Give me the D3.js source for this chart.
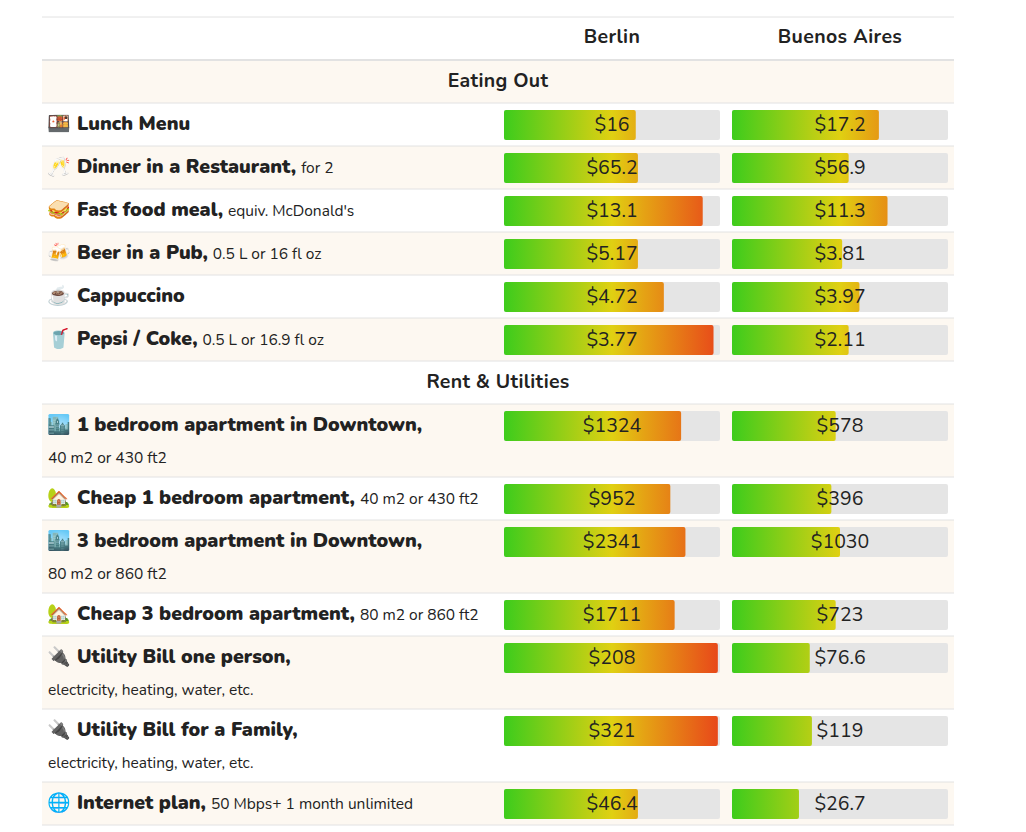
<!DOCTYPE html>
<html><head><meta charset="utf-8">
<script src="https://cdn.jsdelivr.net/npm/d3@7"></script>
<style>body{margin:0;background:#fff;font-family:Nunito,Lato,sans-serif;}</style>
</head><body>
<script>
var cities = ["Berlin", "Buenos Aires"];
var sections = ["Eating Out", "Rent & Utilities"];
var icons = ["🍱","🥂","🥪","🍻","☕","🥤","🏙️","🏡","🏙️","🏡","🔌","🔌","🌐"];
var items = ["Lunch Menu","Dinner in a Restaurant,","Fast food meal,","Beer in a Pub,","Cappuccino","Pepsi / Coke,",
  "1 bedroom apartment in Downtown,","Cheap 1 bedroom apartment,","3 bedroom apartment in Downtown,","Cheap 3 bedroom apartment,",
  "Utility Bill one person,","Utility Bill for a Family,","Internet plan,"];
var notes = ["","for 2","equiv. McDonald's","0.5 L or 16 fl oz","","0.5 L or 16.9 fl oz",
  "40 m2 or 430 ft2","40 m2 or 430 ft2","80 m2 or 860 ft2","80 m2 or 860 ft2",
  "electricity, heating, water, etc.","electricity, heating, water, etc.","50 Mbps+ 1 month unlimited"];
var noteBelow = [0,0,0,0,0,0,1,0,1,0,1,1,0];
var itemSection = [0,0,0,0,0,0,1,1,1,1,1,1,1];
var berlinPrice = ["$16","$65.2","$13.1","$5.17","$4.72","$3.77","$1324","$952","$2341","$1711","$208","$321","$46.4"];
var baPrice = ["$17.2","$56.9","$11.3","$3.81","$3.97","$2.11","$578","$396","$1030","$723","$76.6","$119","$26.7"];
// bar fill share of the track
var berlinLevel = [0.61,0.62,0.92,0.62,0.74,0.97,0.82,0.77,0.84,0.79,0.99,0.99,0.62];
var baLevel = [0.68,0.54,0.72,0.51,0.59,0.54,0.48,0.46,0.50,0.48,0.36,0.37,0.31];

var W = 1026, H = 832;
var svg = d3.select("body").append("svg").attr("width", W).attr("height", H);
var defs = svg.append("defs");

var left = 42, right = 954;
var trackW = 216, trackH = 30;
var colX = [504, 732];
var x = d3.scaleLinear().domain([0, 1]).range([0, trackW]);

// build the row list: header, section titles, items
var rows = [{type: "head", h: 43}];
sections.forEach(function (s, si) {
  rows.push({type: "sec", label: s, h: 43});
  items.forEach(function (it, i) {
    if (itemSection[i] == si) rows.push({type: "item", i: i, h: noteBelow[i] ? 73 : 43});
  });
});
var y = 17;
rows.forEach(function (r, k) { r.y = y; r.k = k; y += r.h; });

// gradient per column, spans the whole track
colX.forEach(function (cx, c) {
  var g = defs.append("linearGradient").attr("id", "grad" + c).attr("gradientUnits", "userSpaceOnUse")
    .attr("x1", cx).attr("x2", cx + trackW).attr("y1", 0).attr("y2", 0);
  [["0%", "#3dcc1c"], ["50%", "#e0d012"], ["65%", "#e5a214"], ["100%", "#e8461a"]].forEach(function (s) {
    g.append("stop").attr("offset", s[0]).attr("stop-color", s[1]);
  });
});

var g = svg.selectAll("g.row").data(rows).enter().append("g").attr("class", "row")
  .attr("transform", function (d) { return "translate(0," + d.y + ")"; });

g.append("rect").attr("x", left).attr("width", right - left).attr("height", function (d) { return d.h; })
  .attr("fill", function (d) { return d.k % 2 ? "#fdf8f1" : "#fff"; });
g.append("line").attr("x1", left).attr("x2", right).attr("y1", 0).attr("y2", 0)
  .attr("stroke", "#e2e2e2").attr("stroke-width", function (d) { return d.k == 1 ? 2 : 1; });

// header
var head = g.filter(function (d) { return d.type == "head"; });
cities.forEach(function (c, ci) {
  head.append("text").attr("x", colX[ci] + trackW / 2).attr("y", 26).attr("text-anchor", "middle")
    .attr("font-size", 19.5).attr("font-weight", 700).attr("letter-spacing", 0.4).attr("fill", "#222").text(c);
});

g.filter(function (d) { return d.type == "sec"; }).append("text")
  .attr("x", (left + right) / 2).attr("y", 27).attr("text-anchor", "middle")
  .attr("font-size", 19.5).attr("font-weight", 700).attr("letter-spacing", 0.3).attr("fill", "#222").text(function (d) { return d.label; });

var it = g.filter(function (d) { return d.type == "item"; });
var lab = it.append("text").attr("x", 47).attr("y", 27).attr("fill", "#222");
lab.append("tspan").attr("font-size", 19).text(function (d) { return icons[d.i]; });
lab.append("tspan").attr("x", 77).attr("font-size", 19.5).attr("font-weight", 900)
  .text(function (d) { return items[d.i]; });
lab.append("tspan").attr("font-size", 15.5).attr("dx", 5)
  .text(function (d) { return noteBelow[d.i] ? "" : notes[d.i]; });
it.filter(function (d) { return noteBelow[d.i]; }).append("text").attr("x", 48).attr("y", 59)
  .attr("font-size", 15.5).attr("fill", "#222").text(function (d) { return notes[d.i]; });

[berlinLevel, baLevel].forEach(function (lvl, c) {
  var prices = c == 0 ? berlinPrice : baPrice;
  it.append("rect").attr("x", colX[c]).attr("y", 7).attr("width", trackW).attr("height", trackH)
    .attr("rx", 2).attr("fill", "#e5e5e5");
  it.append("rect").attr("x", colX[c]).attr("y", 7).attr("width", function (d) { return x(lvl[d.i]); })
    .attr("height", trackH).attr("rx", 2).attr("fill", "url(#grad" + c + ")");
  it.append("text").attr("x", colX[c] + trackW / 2).attr("y", 28).attr("text-anchor", "middle")
    .attr("font-size", 19.5).attr("fill", "#222").text(function (d) { return prices[d.i]; });
});

svg.append("line").attr("x1", left).attr("x2", right).attr("y1", y).attr("y2", y).attr("stroke", "#e2e2e2");
</script>
</body></html>
